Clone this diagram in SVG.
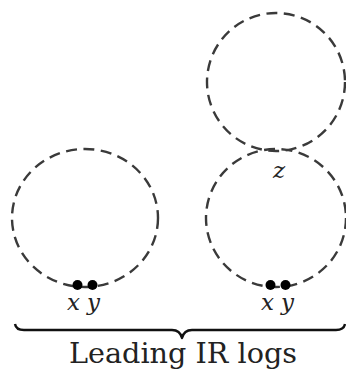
<svg xmlns="http://www.w3.org/2000/svg" width="346" height="378" viewBox="0 0 346 378">
  <style>
    .loop { fill: none; stroke: #3a3a3a; stroke-width: 2.4; stroke-dasharray: 11 6.5; }
    .dot { fill: #000; }
    .var { font-family: 'DejaVu Serif', serif; font-style: italic; font-size: 23px; fill: #222; }
    .caption { font-family: 'DejaVu Serif', serif; font-size: 28px; fill: #222; }
    .brace { fill: none; stroke: #111; stroke-width: 2.4; stroke-linejoin: round; }
  </style>
  <rect width="346" height="378" fill="#fff"/>

  <!-- single log loop on the left -->
  <g id="loop-left">
    <ellipse class="loop" cx="85" cy="218" rx="73" ry="69"/>
    <circle class="dot" cx="77.5" cy="285" r="5"/>
    <circle class="dot" cx="92.5" cy="285" r="5"/>
    <text class="var" x="67" y="310">x</text>
    <text class="var" x="87" y="310">y</text>
  </g>

  <!-- upper loop of the stacked pair -->
  <g id="loop-top">
    <ellipse class="loop" cx="276" cy="82" rx="69" ry="69"/>
  </g>

  <!-- lower loop of the stacked pair -->
  <g id="loop-right">
    <ellipse class="loop" cx="276" cy="218" rx="70" ry="69"/>
    <circle class="dot" cx="270.5" cy="285" r="5"/>
    <circle class="dot" cx="285.5" cy="285" r="5"/>
    <text class="var" x="261" y="310">x</text>
    <text class="var" x="281" y="310">y</text>
    <text class="var" x="273" y="178">z</text>
  </g>

  <!-- brace and caption -->
  <g id="connectors">
    <path class="brace" d="M15,324 Q16,330 24,330 L172,330 Q180,330 182,338 Q184,330 192,330 L336,330 Q344,330 345,324"/>
  </g>
  <g id="caption">
    <text class="caption" x="183" y="363" text-anchor="middle" textLength="228" lengthAdjust="spacingAndGlyphs">Leading IR logs</text>
  </g>
</svg>
